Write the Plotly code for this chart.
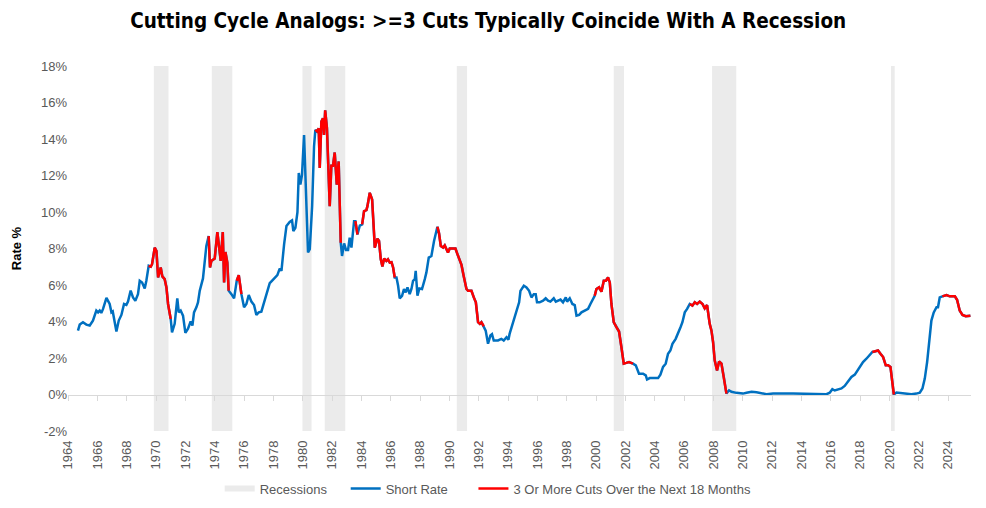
import plotly.graph_objects as go

# short rate (decimal year, %)
years = [
    1964.68, 1964.80, 1965.02, 1965.25, 1965.48, 1965.70, 1965.93, 1966.05, 1966.16, 1966.27,
    1966.39, 1966.50, 1966.62, 1966.84, 1966.96, 1967.05, 1967.18, 1967.30, 1967.46, 1967.64,
    1967.82, 1967.98, 1968.09, 1968.27, 1968.43, 1968.59, 1968.77, 1968.89, 1969.05, 1969.23,
    1969.34, 1969.50, 1969.64, 1969.73, 1969.91, 1970.03, 1970.14, 1970.32, 1970.43, 1970.59,
    1970.71, 1970.82, 1971.00, 1971.09, 1971.27, 1971.45, 1971.55, 1971.68, 1971.84, 1972.00,
    1972.18, 1972.36, 1972.48, 1972.59, 1972.75, 1972.86, 1972.98, 1973.20, 1973.43, 1973.59,
    1973.68, 1973.77, 1974.00, 1974.18, 1974.41, 1974.55, 1974.64, 1974.73, 1974.86, 1974.95,
    1975.14, 1975.32, 1975.50, 1975.64, 1975.82, 1976.00, 1976.16, 1976.32, 1976.50, 1976.68,
    1976.84, 1977.00, 1977.18, 1977.36, 1977.52, 1977.75, 1977.90, 1978.09, 1978.27, 1978.43,
    1978.55, 1978.73, 1978.89, 1979.11, 1979.27, 1979.36, 1979.50, 1979.64, 1979.73, 1979.84,
    1979.95, 1980.09, 1980.20, 1980.36, 1980.48, 1980.64, 1980.77, 1980.86, 1981.00, 1981.09,
    1981.16, 1981.27, 1981.38, 1981.45, 1981.53, 1981.65, 1981.84, 1981.95, 1982.06, 1982.18,
    1982.32, 1982.45, 1982.59, 1982.68, 1982.82, 1982.95, 1983.09, 1983.20, 1983.32, 1983.50,
    1983.59, 1983.73, 1983.89, 1984.05, 1984.18, 1984.34, 1984.41, 1984.57, 1984.73, 1984.86,
    1984.91, 1985.09, 1985.20, 1985.32, 1985.43, 1985.55, 1985.70, 1985.81, 1985.93, 1986.05,
    1986.16, 1986.27, 1986.39, 1986.50, 1986.61, 1986.77, 1986.90, 1987.02, 1987.14, 1987.29,
    1987.41, 1987.52, 1987.64, 1987.70, 1987.82, 1987.95, 1988.13, 1988.32, 1988.43, 1988.59,
    1988.77, 1988.95, 1989.11, 1989.18, 1989.29, 1989.41, 1989.57, 1989.68, 1989.80, 1989.90,
    1990.02, 1990.25, 1990.41, 1990.55, 1990.70, 1990.82, 1990.97, 1991.16, 1991.27, 1991.50,
    1991.66, 1991.80, 1991.95, 1992.07, 1992.18, 1992.34, 1992.47, 1992.63, 1992.79, 1992.90,
    1993.02, 1993.31, 1993.54, 1993.70, 1993.89, 1994.02, 1994.10, 1994.27, 1994.45, 1994.61,
    1994.75, 1994.84, 1995.07, 1995.25, 1995.43, 1995.59, 1995.75, 1995.88, 1995.97, 1996.15,
    1996.38, 1996.56, 1996.72, 1996.88, 1997.11, 1997.25, 1997.40, 1997.57, 1997.74, 1997.93,
    1998.02, 1998.20, 1998.38, 1998.54, 1998.66, 1998.84, 1999.00, 1999.22, 1999.45, 1999.61,
    1999.79, 1999.90, 2000.02, 2000.20, 2000.36, 2000.52, 2000.66, 2000.81, 2000.93, 2001.04,
    2001.20, 2001.38, 2001.56, 2001.72, 2001.88, 2002.05, 2002.24, 2002.51, 2002.70, 2002.92,
    2003.20, 2003.38, 2003.47, 2003.65, 2003.99, 2004.22, 2004.38, 2004.56, 2004.74, 2004.90,
    2005.06, 2005.20, 2005.42, 2005.58, 2005.75, 2005.88, 2006.04, 2006.20, 2006.38, 2006.56,
    2006.72, 2006.88, 2007.06, 2007.25, 2007.40, 2007.56, 2007.74, 2007.86, 2007.97, 2008.08,
    2008.24, 2008.38, 2008.54, 2008.70, 2008.88, 2009.06, 2009.22, 2009.56, 2010.00, 2010.25,
    2010.59, 2010.93, 2011.27, 2011.61, 2012.06, 2012.51, 2012.97, 2013.42, 2013.88, 2014.33,
    2014.78, 2015.24, 2015.70, 2015.92, 2016.10, 2016.26, 2016.49, 2016.72, 2016.94, 2017.17,
    2017.40, 2017.63, 2017.79, 2017.97, 2018.19, 2018.42, 2018.65, 2018.83, 2018.99, 2019.21,
    2019.38, 2019.56, 2019.74, 2019.90, 2020.06, 2020.20, 2020.29, 2020.47, 2020.81, 2021.15,
    2021.49, 2021.83, 2022.06, 2022.24, 2022.40, 2022.56, 2022.69, 2022.85, 2023.01, 2023.20,
    2023.30, 2023.42, 2023.60, 2023.88, 2024.10, 2024.45, 2024.60, 2024.78, 2024.97, 2025.19,
    2025.51,
]
short_rate = [
    3.50, 3.83, 3.96, 3.83, 3.78, 4.05, 4.60, 4.50, 4.60, 4.47,
    4.69, 4.96, 5.29, 4.96, 4.50, 4.55, 3.87, 3.45, 4.05, 4.36,
    4.96, 4.91, 5.09, 5.69, 5.32, 5.14, 5.50, 6.23, 6.14, 5.81,
    6.23, 7.05, 7.00, 7.14, 8.05, 7.86, 6.41, 6.96, 6.47, 6.32,
    5.87, 4.96, 4.14, 3.41, 3.87, 5.27, 4.50, 4.60, 4.32, 3.38,
    3.60, 4.00, 3.78, 4.50, 4.78, 5.05, 5.69, 6.36, 8.14, 8.68,
    6.96, 7.32, 7.45, 8.90, 7.32, 8.90, 6.14, 7.81, 7.23, 5.69,
    5.50, 5.27, 6.23, 6.54, 5.50, 4.78, 4.96, 5.45, 5.09, 4.90,
    4.36, 4.50, 4.54, 5.05, 5.50, 6.10, 6.23, 6.41, 6.54, 6.90,
    6.78, 8.23, 9.23, 9.45, 9.54, 8.96, 9.14, 9.99, 12.14, 11.50,
    12.04, 14.22, 11.59, 7.78, 7.96, 10.32, 13.59, 14.50, 14.40, 14.59,
    12.41, 14.95, 15.13, 14.22, 15.57, 14.60, 10.32, 12.53, 12.53, 13.26,
    11.50, 12.77, 8.32, 7.59, 8.28, 7.92, 7.92, 8.59, 8.05, 9.50,
    9.50, 8.77, 9.26, 9.32, 10.05, 10.10, 10.32, 11.05, 10.68, 8.87,
    8.05, 8.54, 8.41, 7.41, 7.01, 7.45, 7.32, 7.41, 7.23, 7.25,
    6.96, 6.41, 6.41, 5.96, 5.27, 5.41, 5.78, 5.60, 5.87, 5.50,
    5.78, 6.23, 6.32, 6.78, 5.41, 5.81, 5.78, 6.32, 6.69, 7.50,
    7.59, 8.41, 8.96, 9.19, 8.83, 8.14, 8.05, 8.17, 7.96, 7.78,
    8.00, 8.00, 8.00, 7.68, 7.32, 7.10, 6.50, 5.78, 5.68, 5.68,
    5.32, 5.05, 3.96, 3.87, 3.96, 3.74, 3.50, 2.78, 3.23, 3.30,
    2.96, 2.96, 3.05, 2.96, 3.14, 3.00, 3.32, 3.78, 4.23, 4.60,
    5.05, 5.68, 5.96, 5.87, 5.68, 5.32, 5.50, 5.50, 5.05, 5.05,
    5.14, 5.27, 5.14, 5.09, 5.27, 5.09, 5.14, 5.20, 5.05, 5.32,
    5.09, 5.27, 4.96, 4.90, 4.32, 4.36, 4.50, 4.60, 4.69, 4.96,
    5.23, 5.41, 5.78, 5.87, 5.63, 6.23, 6.23, 6.41, 6.14, 4.96,
    3.96, 3.69, 3.45, 2.60, 1.69, 1.73, 1.78, 1.69, 1.60, 1.14,
    1.14, 1.05, 0.82, 0.90, 0.90, 0.90, 1.09, 1.51, 1.69, 2.23,
    2.41, 2.78, 3.05, 3.41, 3.69, 3.96, 4.50, 4.69, 4.96, 4.87,
    5.05, 4.96, 5.09, 4.96, 4.72, 4.90, 3.87, 3.50, 2.87, 1.87,
    1.32, 1.81, 1.69, 0.96, 0.05, 0.23, 0.15, 0.09, 0.05, 0.10,
    0.15, 0.12, 0.07, 0.02, 0.05, 0.07, 0.05, 0.05, 0.04, 0.03,
    0.02, 0.02, 0.02, 0.10, 0.29, 0.22, 0.28, 0.33, 0.47, 0.69,
    0.96, 1.09, 1.27, 1.51, 1.78, 1.96, 2.18, 2.33, 2.36, 2.41,
    2.23, 2.05, 1.60, 1.60, 1.51, 0.69, 0.00, 0.11, 0.09, 0.04,
    0.02, 0.05, 0.10, 0.33, 0.87, 1.78, 2.87, 4.05, 4.50, 4.78,
    4.78, 5.32, 5.38, 5.45, 5.38, 5.38, 5.19, 4.60, 4.36, 4.29,
    4.32,
]

# periods with 3 or more cuts over the next 18 months
cut_start = [1969.45, 1973.55, 1975.45, 1980.82, 1983.55, 1984.00, 1989.15, 1999.85, 2006.35, 2018.80, 2023.55]
cut_end = [1971.02, 1974.97, 1975.85, 1982.60, 1983.75, 1986.30, 1992.35, 2002.55, 2008.90, 2020.30, 2025.60]

# recessions
rec_start = [1969.85, 1973.80, 1979.98, 1981.50, 1990.50, 2001.20, 2007.90, 2020.10]
rec_end = [1970.85, 1975.20, 1980.60, 1982.90, 1991.20, 2001.90, 2009.55, 2020.35]

tick_years = list(range(1964, 2025, 2))
y_ticks = list(range(-2, 19, 2))

BLUE = '#0070C0'
RED = '#FF0000'
GREY = '#EBEBEB'
TXT = '#595959'

red_rate = []
for yr, v in zip(years, short_rate):
    inside = any(s <= yr <= e for s, e in zip(cut_start, cut_end))
    red_rate.append(v if inside else None)

# recession bands as closed polygons
band_x, band_y = [], []
for s, e in zip(rec_start, rec_end):
    band_x += [s, s, e, e, s, None]
    band_y += [-2, 18, 18, -2, -2, None]

fig = go.Figure()

fig.add_trace(go.Scatter(
    x=band_x, y=band_y, name='Recessions', mode='none',
    fill='toself', fillcolor=GREY, hoverinfo='skip'
))
fig.add_trace(go.Scatter(
    x=years, y=short_rate, name='Short Rate', mode='lines',
    line=dict(color=BLUE, width=2.5)
))
fig.add_trace(go.Scatter(
    x=years, y=red_rate, name='3 Or More Cuts Over the Next 18 Months', mode='lines',
    line=dict(color=RED, width=2.5), connectgaps=False, legend='legend2'
))
# helper trace so the zero-line axis gets drawn
fig.add_trace(go.Scatter(x=[years[0]], y=[None], xaxis='x2', showlegend=False, hoverinfo='skip'))

# page body adds ~8px offset, margins compensate
fig.update_layout(
    width=986, height=508,
    paper_bgcolor='white', plot_bgcolor='white',
    margin=dict(l=60, r=23, t=58, b=83),
    font=dict(family='Liberation Sans, Arial, sans-serif', color=TXT, size=13),
    title=dict(
        text='<b>Cutting Cycle Analogs: >=3 Cuts Typically Coincide With A Recession</b>',
        x=0.487, xanchor='center', y=0.974, yanchor='middle',
        font=dict(family='DejaVu Sans Condensed, Liberation Sans Narrow, sans-serif',
                  size=20.5, color='black')
    ),
    xaxis=dict(
        range=[1964, 2025.55], tickvals=tick_years, ticktext=[str(t) for t in tick_years],
        tickangle=-90, showgrid=False, zeroline=False, showline=False, ticks='',
        ticklabelstandoff=6, automargin=False,
        tickfont=dict(size=13, color=TXT)
    ),
    xaxis2=dict(
        overlaying='x', matches='x', anchor='free', position=0.1,
        tickvals=tick_years, showticklabels=False, showgrid=False, zeroline=False,
        showline=True, linecolor='#D9D9D9', linewidth=1, automargin=False,
        ticks='outside', ticklen=5, tickcolor='#D9D9D9'
    ),
    yaxis=dict(
        range=[-2, 18], tickvals=y_ticks, ticktext=[f'{t}%' for t in y_ticks],
        showgrid=False, zeroline=False, automargin=False,
        tickfont=dict(size=13, color=TXT),
        title=dict(text='<b>Rate %</b>', font=dict(size=13, color='black'), standoff=16)
    ),
    legend=dict(
        orientation='h', x=0.168, xanchor='left', y=-0.158, yanchor='middle',
        entrywidth=81, entrywidthmode='pixels',
        font=dict(size=13, color=TXT), bgcolor='rgba(0,0,0,0)'
    ),
    legend2=dict(
        orientation='h', x=0.449, xanchor='left', y=-0.158, yanchor='middle',
        font=dict(size=13, color=TXT), bgcolor='rgba(0,0,0,0)'
    ),
    showlegend=True,
)

fig.write_html('out.html')
